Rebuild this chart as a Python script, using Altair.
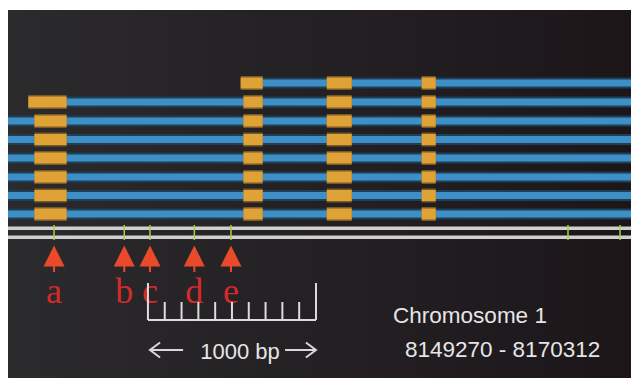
import altair as alt
import pandas as pd

# ---------------- data (positions in bp within the displayed window) ----------------
VIEW_BP = [0, 3708]          # displayed window, bp from left edge
PLOT_Y = [0, 368]            # vertical layout units of the panel

row_y = [73, 92, 111, 129.5, 148, 167, 185.5, 204]
tx_start = [1385, 121, 0, 0, 0, 0, 0, 0]
tx_end = [3708, 3708, 3708, 3708, 3708, 3708, 3708, 3708]

exon1_start = [None, 121, 157, 157, 157, 157, 157, 157]
exon1_end = [None, 349, 349, 349, 349, 349, 349, 349]
exon2_start = [1385, 1401, 1401, 1401, 1401, 1401, 1401, 1401]
exon2_end = [1516, 1516, 1516, 1516, 1516, 1516, 1516, 1516]
exon3_start = [1897] * 8
exon3_end = [2046] * 8
exon4_start = [2462] * 8
exon4_end = [2546] * 8

site_bp = [274, 692, 845, 1109, 1327]
site_label = ["a", "b", "c", "d", "e"]
other_tick_bp = [3333, 3643]

scale_ticks = [833, 933, 1033, 1133, 1233, 1333, 1433, 1533, 1633, 1733, 1833]
chrom_name = "Chromosome 1"
chrom_range = "8149270 - 8170312"
scale_label = "1000 bp"

# ---------------- tables ----------------
tx = pd.DataFrame({"y": row_y, "x": tx_start, "x2": tx_end})
ex_rows = []
for i, y in enumerate(row_y):
    for s, e in [(exon1_start[i], exon1_end[i]), (exon2_start[i], exon2_end[i]),
                 (exon3_start[i], exon3_end[i]), (exon4_start[i], exon4_end[i])]:
        if s is not None:
            ex_rows.append({"y": y, "x": s, "x2": e})
ex = pd.DataFrame(ex_rows)

xs = alt.Scale(domain=VIEW_BP, nice=False, zero=False)
ys = alt.Scale(domain=PLOT_Y, reverse=True, nice=False, zero=False)


def X(f="x"):
    return alt.X(f, type="quantitative", scale=xs, axis=None)


def Y(f="y"):
    return alt.Y(f, type="quantitative", scale=ys, axis=None)


bg_df = pd.DataFrame({"x": [VIEW_BP[0]], "x2": [VIEW_BP[1]], "y": [PLOT_Y[0]], "y2": [PLOT_Y[1]]})
bg = alt.Chart(bg_df).mark_rect(
    fill=alt.Gradient(gradient="linear", x1=0, x2=1, y1=0, y2=0,
                      stops=[alt.GradientStop(color="#2b2a2d", offset=0),
                             alt.GradientStop(color="#1c1619", offset=1)])
).encode(x=X(), x2="x2", y=Y(), y2="y2")

tx_glow = alt.Chart(tx).mark_rule(color="#1d3f58", strokeWidth=11, strokeCap="butt").encode(
    x=X(), x2="x2", y=Y())
tx_core = alt.Chart(tx).mark_rule(color="#3d8fc6", strokeWidth=7, strokeCap="butt").encode(
    x=X(), x2="x2", y=Y())

ex_glow = alt.Chart(ex).mark_rule(color="#7a5a22", strokeWidth=14, strokeCap="butt").encode(
    x=X(), x2="x2", y=Y())
ex_core = alt.Chart(ex).mark_rule(color="#dfa236", strokeWidth=11, strokeCap="butt").encode(
    x=X(), x2="x2", y=Y())

chrom_df = pd.DataFrame({"x": [VIEW_BP[0]] * 2, "x2": [VIEW_BP[1]] * 2, "y": [218.3, 227.3]})
chrom = alt.Chart(chrom_df).mark_rule(color="#cfcfcf", strokeWidth=3.5).encode(
    x=X(), x2="x2", y=Y())

tick_df = pd.DataFrame({"x": site_bp + other_tick_bp})
tick_df["y"] = 215
tick_df["y2"] = 230
ticks = alt.Chart(tick_df).mark_rule(color="#a8d040", strokeWidth=1.5).encode(
    x=X(), y=Y(), y2="y2")

site_df = pd.DataFrame({"x": site_bp, "label": site_label})
site_df["ytri"] = 246
site_df["ys1"] = 256
site_df["ys2"] = 262
site_df["ylab"] = 293
tri = alt.Chart(site_df).mark_point(
    shape="M-1,1L0,-1L1,1Z", filled=True, opacity=1, color="#ea4a2c", size=441
).encode(x=X(), y=Y("ytri"))
stem = alt.Chart(site_df).mark_rule(color="#ea4a2c", strokeWidth=2).encode(
    x=X(), y=Y("ys1"), y2="ys2")
letters = alt.Chart(site_df).mark_text(
    font="Liberation Serif", fontSize=36, color="#d42a2a", baseline="alphabetic", align="center"
).encode(x=X(), y=Y("ylab"), text="label:N")

bar_df = pd.DataFrame({"x": [scale_ticks[0]], "x2": [scale_ticks[-1]], "y": [310]})
bar = alt.Chart(bar_df).mark_rule(color="#dcdcdc", strokeWidth=2).encode(
    x=X(), x2="x2", y=Y())
bt_df = pd.DataFrame({"x": scale_ticks,
                      "top": [273] + [292] * (len(scale_ticks) - 2) + [273]})
bt_df["bottom"] = 310
bar_ticks = alt.Chart(bt_df).mark_rule(color="#dcdcdc", strokeWidth=2).encode(
    x=X(), y=Y("top"), y2="bottom")

shaft_df = pd.DataFrame({"x": [845, 1649], "x2": [1042, 1833], "y": [340, 340]})
shafts = alt.Chart(shaft_df).mark_rule(color="#d8d8d8", strokeWidth=2).encode(
    x=X(), x2="x2", y=Y())
head_df = pd.DataFrame({
    "arrow": ["L", "L", "L", "R", "R", "R"],
    "o": [0, 1, 2, 0, 1, 2],
    "x": [905, 845, 905, 1773, 1833, 1773],
    "y": [332.5, 340, 347.5, 332.5, 340, 347.5],
})
heads = alt.Chart(head_df).mark_line(color="#d8d8d8", strokeWidth=2).encode(
    x=X(), y=Y(), detail="arrow:N", order="o:Q")

lab_df = pd.DataFrame({"x": [1381], "y": [349], "t": [scale_label]})
scale_text = alt.Chart(lab_df).mark_text(
    font="Liberation Sans", fontSize=22, color="#e6e6e6", baseline="alphabetic", align="center"
).encode(x=X(), y=Y(), text="t:N")

info_df = pd.DataFrame({"x": [2292, 2363], "y": [313.3, 346.7], "t": [chrom_name, chrom_range]})
info = alt.Chart(info_df).mark_text(
    font="Liberation Sans", fontSize=22.5, color="#e6e6e6", baseline="alphabetic", align="left"
).encode(x=X(), y=Y(), text="t:N")

chart = alt.layer(
    bg, tx_glow, tx_core, ex_glow, ex_core, chrom, ticks, tri, stem, letters,
    bar, bar_ticks, shafts, heads, scale_text, info
).properties(
    width=623, height=368,
    autosize=alt.AutoSizeParams(type="none"),
    padding={"left": 0, "top": 2, "right": 0, "bottom": 0},
    background="white",
).configure_view(strokeWidth=0)

chart.save("out.html", embed_options={"renderer": "svg", "actions": False})
